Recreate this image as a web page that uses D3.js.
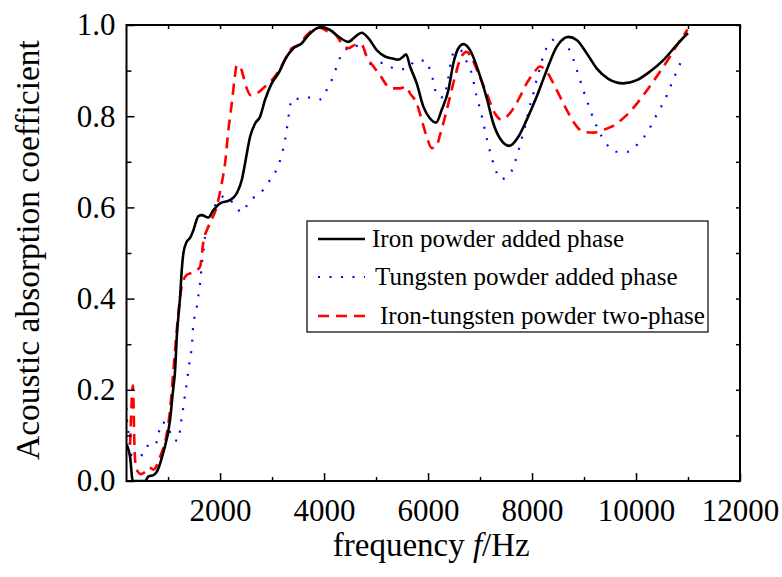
<!DOCTYPE html>
<html>
<head>
<meta charset="utf-8">
<script src="https://cdn.jsdelivr.net/npm/d3@7/dist/d3.min.js"></script>
<style>
  html, body { margin: 0; padding: 0; background: #fff; }
  svg { display: block; }
  text { font-family: "Liberation Serif", "Times New Roman", serif; fill: #000; }
</style>
</head>
<body>
<svg id="chart" width="782" height="577"></svg>
<script>
// ---- Data (frequency Hz, absorption coefficient) ----
const seriesNames = ["Iron powder added phase", "Tungsten powder added phase", "Iron-tungsten powder two-phase"];

const ironFreq = [200,269,321,400,558,622,718,782,904,1038,1096,1135,1167,1231,1263,1295,1360,1423,1487,1583,1647,1775,1871,2000,2192,2321,2417,2481,2577,2673,2769,2865,2993,3122,3283,3411,3571,3700,3860,3950,4115,4308,4468,4596,4724,4852,5013,5173,5301,5429,5525,5577,5654,5782,5910,6038,6154,6263,6391,6487,6583,6680,6808,6968,7128,7256,7385,7564,7737,7897,8090,8282,8474,8698,8859,9051,9243,9467,9756,10013,10269,10526,10750,10962,11000];
const ironVal  = [0.08,0.053,0.0,0.0,0.0,0.01,0.013,0.02,0.061,0.134,0.2,0.243,0.316,0.404,0.463,0.5,0.525,0.533,0.55,0.581,0.583,0.578,0.594,0.609,0.616,0.631,0.66,0.697,0.755,0.784,0.799,0.836,0.872,0.894,0.931,0.949,0.96,0.978,0.993,0.995,0.989,0.972,0.963,0.974,0.983,0.971,0.945,0.931,0.927,0.924,0.931,0.936,0.909,0.872,0.821,0.795,0.786,0.814,0.857,0.916,0.949,0.958,0.945,0.899,0.84,0.784,0.751,0.735,0.755,0.792,0.843,0.901,0.952,0.974,0.967,0.938,0.905,0.882,0.872,0.879,0.898,0.923,0.952,0.978,0.982];

const tungFreq = [200,210,235,300,462,590,750,814,878,1006,1070,1198,1231,1263,1295,1327,1360,1391,1423,1455,1471,1487,1538,1570,1602,1628,1647,1679,1698,1756,1807,1904,2096,2269,2417,2564,2782,2948,3090,3173,3225,3269,3302,3333,3379,3475,3712,3937,4064,4180,4257,4360,4577,4788,4897,5121,5346,5577,5769,5961,6051,6115,6167,6308,6359,6404,6436,6525,6615,6750,6839,6935,7000,7051,7102,7154,7212,7282,7398,7583,7673,7744,7801,7865,7917,7975,8038,8090,8154,8218,8327,8526,8698,8795,8871,8942,9019,9096,9179,9275,9403,9615,9839,10063,10237,10353,10475,10590,10686,10782,10879];
const tungVal  = [0.16,0.134,0.108,0.057,0.053,0.077,0.077,0.103,0.129,0.119,0.094,0.088,0.112,0.14,0.164,0.19,0.216,0.243,0.269,0.294,0.32,0.346,0.371,0.397,0.423,0.448,0.474,0.501,0.526,0.55,0.578,0.604,0.625,0.607,0.589,0.614,0.632,0.658,0.684,0.71,0.735,0.761,0.787,0.812,0.838,0.838,0.841,0.837,0.861,0.888,0.914,0.939,0.955,0.939,0.914,0.917,0.905,0.903,0.922,0.922,0.896,0.871,0.844,0.841,0.867,0.893,0.918,0.944,0.945,0.918,0.894,0.843,0.816,0.792,0.765,0.739,0.714,0.688,0.662,0.675,0.7,0.726,0.751,0.777,0.803,0.83,0.855,0.881,0.906,0.933,0.958,0.973,0.95,0.925,0.898,0.873,0.846,0.821,0.795,0.77,0.744,0.722,0.722,0.743,0.768,0.794,0.819,0.845,0.872,0.898,0.923];

const twoFreq = [270,325,335,350,370,420,480,560,640,720,846,975,1038,1102,1167,1231,1295,1360,1420,1520,1615,1679,1775,1936,2032,2096,2160,2225,2276,2321,2385,2449,2513,2591,2706,2865,3026,3154,3283,3379,3507,3668,3795,3923,4052,4180,4372,4468,4596,4724,4820,4949,5077,5205,5301,5462,5577,5654,5782,5878,5974,6071,6154,6231,6327,6423,6519,6615,6743,6839,6968,7128,7288,7417,7513,7641,7769,7897,8026,8154,8282,8410,8538,8666,8795,8987,9179,9371,9531,9788,9916,10141,10398,10654,10750,10879,10990];
const twoVal  = [0.08,0.21,0.17,0.09,0.04,0.02,0.015,0.02,0.03,0.025,0.053,0.104,0.156,0.243,0.331,0.404,0.441,0.452,0.455,0.46,0.47,0.525,0.558,0.602,0.653,0.697,0.77,0.828,0.879,0.912,0.909,0.887,0.861,0.846,0.85,0.865,0.883,0.905,0.931,0.949,0.956,0.978,0.99,0.994,0.987,0.983,0.956,0.949,0.956,0.956,0.931,0.909,0.89,0.868,0.861,0.861,0.865,0.85,0.828,0.792,0.755,0.73,0.733,0.759,0.799,0.843,0.887,0.924,0.941,0.927,0.894,0.85,0.806,0.792,0.799,0.817,0.843,0.872,0.894,0.909,0.898,0.872,0.843,0.814,0.788,0.766,0.764,0.77,0.777,0.799,0.814,0.846,0.887,0.931,0.949,0.971,0.99];

const xMajorTicks = [2000,4000,6000,8000,10000,12000];
const xMinorTicks = [1000,3000,5000,7000,9000,11000];
const yMajorTicks = [0.0,0.2,0.4,0.6,0.8,1.0];
const yMinorTicks = [0.1,0.3,0.5,0.7,0.9];

const xTitle = "frequency ";
const xTitleItalic = "f";
const xTitleTail = "/Hz";
const yTitle = "Acoustic absorption coefficient";

// ---- Layout ----
const svg = d3.select("#chart");
const L = 126.5, R = 740, T = 25, B = 481;
const x = d3.scaleLinear().domain([200, 12000]).range([L, R]);
const y = d3.scaleLinear().domain([0, 1]).range([B, T]);

svg.append("defs").append("clipPath").attr("id", "clip")
  .append("rect").attr("x", L).attr("y", T - 2).attr("width", R - L).attr("height", B - T + 2);

const zip = (f, v) => f.map((d, i) => [d, v[i]]);
const line = d3.line().x(d => x(d[0])).y(d => y(d[1])).curve(d3.curveMonotoneX);

const series = [
  { name: seriesNames[0], data: zip(ironFreq, ironVal), color: "#000000", dash: null, width: 2.6 },
  { name: seriesNames[1], data: zip(tungFreq, tungVal), color: "#0000ff", dash: "2,9.5", width: 2.2 },
  { name: seriesNames[2], data: zip(twoFreq, twoVal), color: "#ff0000", dash: "11,7", width: 2.6 }
];

const plot = svg.append("g").attr("clip-path", "url(#clip)");
[series[1], series[2], series[0]].forEach(s => {
  plot.append("path").datum(s.data)
    .attr("fill", "none")
    .attr("stroke", s.color)
    .attr("stroke-width", s.width)
    .attr("stroke-dasharray", s.dash)
    .attr("stroke-linejoin", "round")
    .attr("d", line);
});

// ---- Axes ----
const fs = 31;
const xAxis = svg.append("g").attr("transform", `translate(0,${B})`)
  .call(d3.axisBottom(x).tickValues(xMajorTicks).tickSize(-8).tickPadding(18).tickFormat(d3.format("d")));
xAxis.select(".domain").remove();
xAxis.selectAll("text").style("font-size", fs + "px").style("font-family", "Liberation Serif");
xAxis.selectAll("line").attr("stroke-width", 1.5);

const xMinor = svg.append("g").attr("transform", `translate(0,${B})`)
  .call(d3.axisBottom(x).tickValues(xMinorTicks).tickSize(-4).tickFormat(""));
xMinor.select(".domain").remove();
xMinor.selectAll("line").attr("stroke-width", 1.5);

const xTop = svg.append("g").attr("transform", `translate(0,${T})`)
  .call(d3.axisTop(x).tickValues(xMajorTicks.concat(xMinorTicks)).tickSize(-4).tickFormat(""));
xTop.select(".domain").remove();
xTop.selectAll("line").attr("stroke-width", 1.5);

const yAxis = svg.append("g").attr("transform", `translate(${L},0)`)
  .call(d3.axisLeft(y).tickValues(yMajorTicks).tickSize(-8).tickPadding(11).tickFormat(d3.format(".1f")));
yAxis.select(".domain").remove();
yAxis.selectAll("text").style("font-size", fs + "px").style("font-family", "Liberation Serif");
yAxis.selectAll("line").attr("stroke-width", 1.5);

const yMinor = svg.append("g").attr("transform", `translate(${L},0)`)
  .call(d3.axisLeft(y).tickValues(yMinorTicks).tickSize(-5).tickFormat(""));
yMinor.select(".domain").remove();
yMinor.selectAll("line").attr("stroke-width", 1.5);

const yRight = svg.append("g").attr("transform", `translate(${R},0)`)
  .call(d3.axisRight(y).tickValues(yMajorTicks.concat(yMinorTicks)).tickSize(-4).tickFormat(""));
yRight.select(".domain").remove();
yRight.selectAll("line").attr("stroke-width", 1.5);

// Frame
svg.append("rect").attr("x", L).attr("y", T).attr("width", R - L).attr("height", B - T)
  .attr("fill", "none").attr("stroke", "#000").attr("stroke-width", 2);

// Titles
const xt = svg.append("text").attr("x", (L + R) / 2 - 2).attr("y", 556)
  .attr("text-anchor", "middle").style("font-size", "33px");
xt.append("tspan").text(xTitle);
xt.append("tspan").style("font-style", "italic").text(xTitleItalic);
xt.append("tspan").text(xTitleTail);

svg.append("text").attr("transform", `translate(39,${(T + B) / 2 - 3}) rotate(-90)`)
  .attr("text-anchor", "middle").style("font-size", "33.5px").text(yTitle);

// ---- Legend ----
const lg = svg.append("g");
lg.append("rect").attr("x", 307).attr("y", 221).attr("width", 401).attr("height", 111)
  .attr("fill", "#fff").attr("stroke", "#000").attr("stroke-width", 1.2);
const rowsY = [239, 277, 316];
const textX = [372, 375, 380];
series.forEach((s, i) => {
  lg.append("line").attr("x1", 318).attr("x2", 365).attr("y1", rowsY[i]).attr("y2", rowsY[i])
    .attr("stroke", s.color).attr("stroke-width", s.width).attr("stroke-dasharray", s.dash);
  lg.append("text").attr("x", textX[i]).attr("y", rowsY[i]).attr("dy", "0.33em")
    .style("font-size", "25px").text(s.name);
});
</script>
</body>
</html>
